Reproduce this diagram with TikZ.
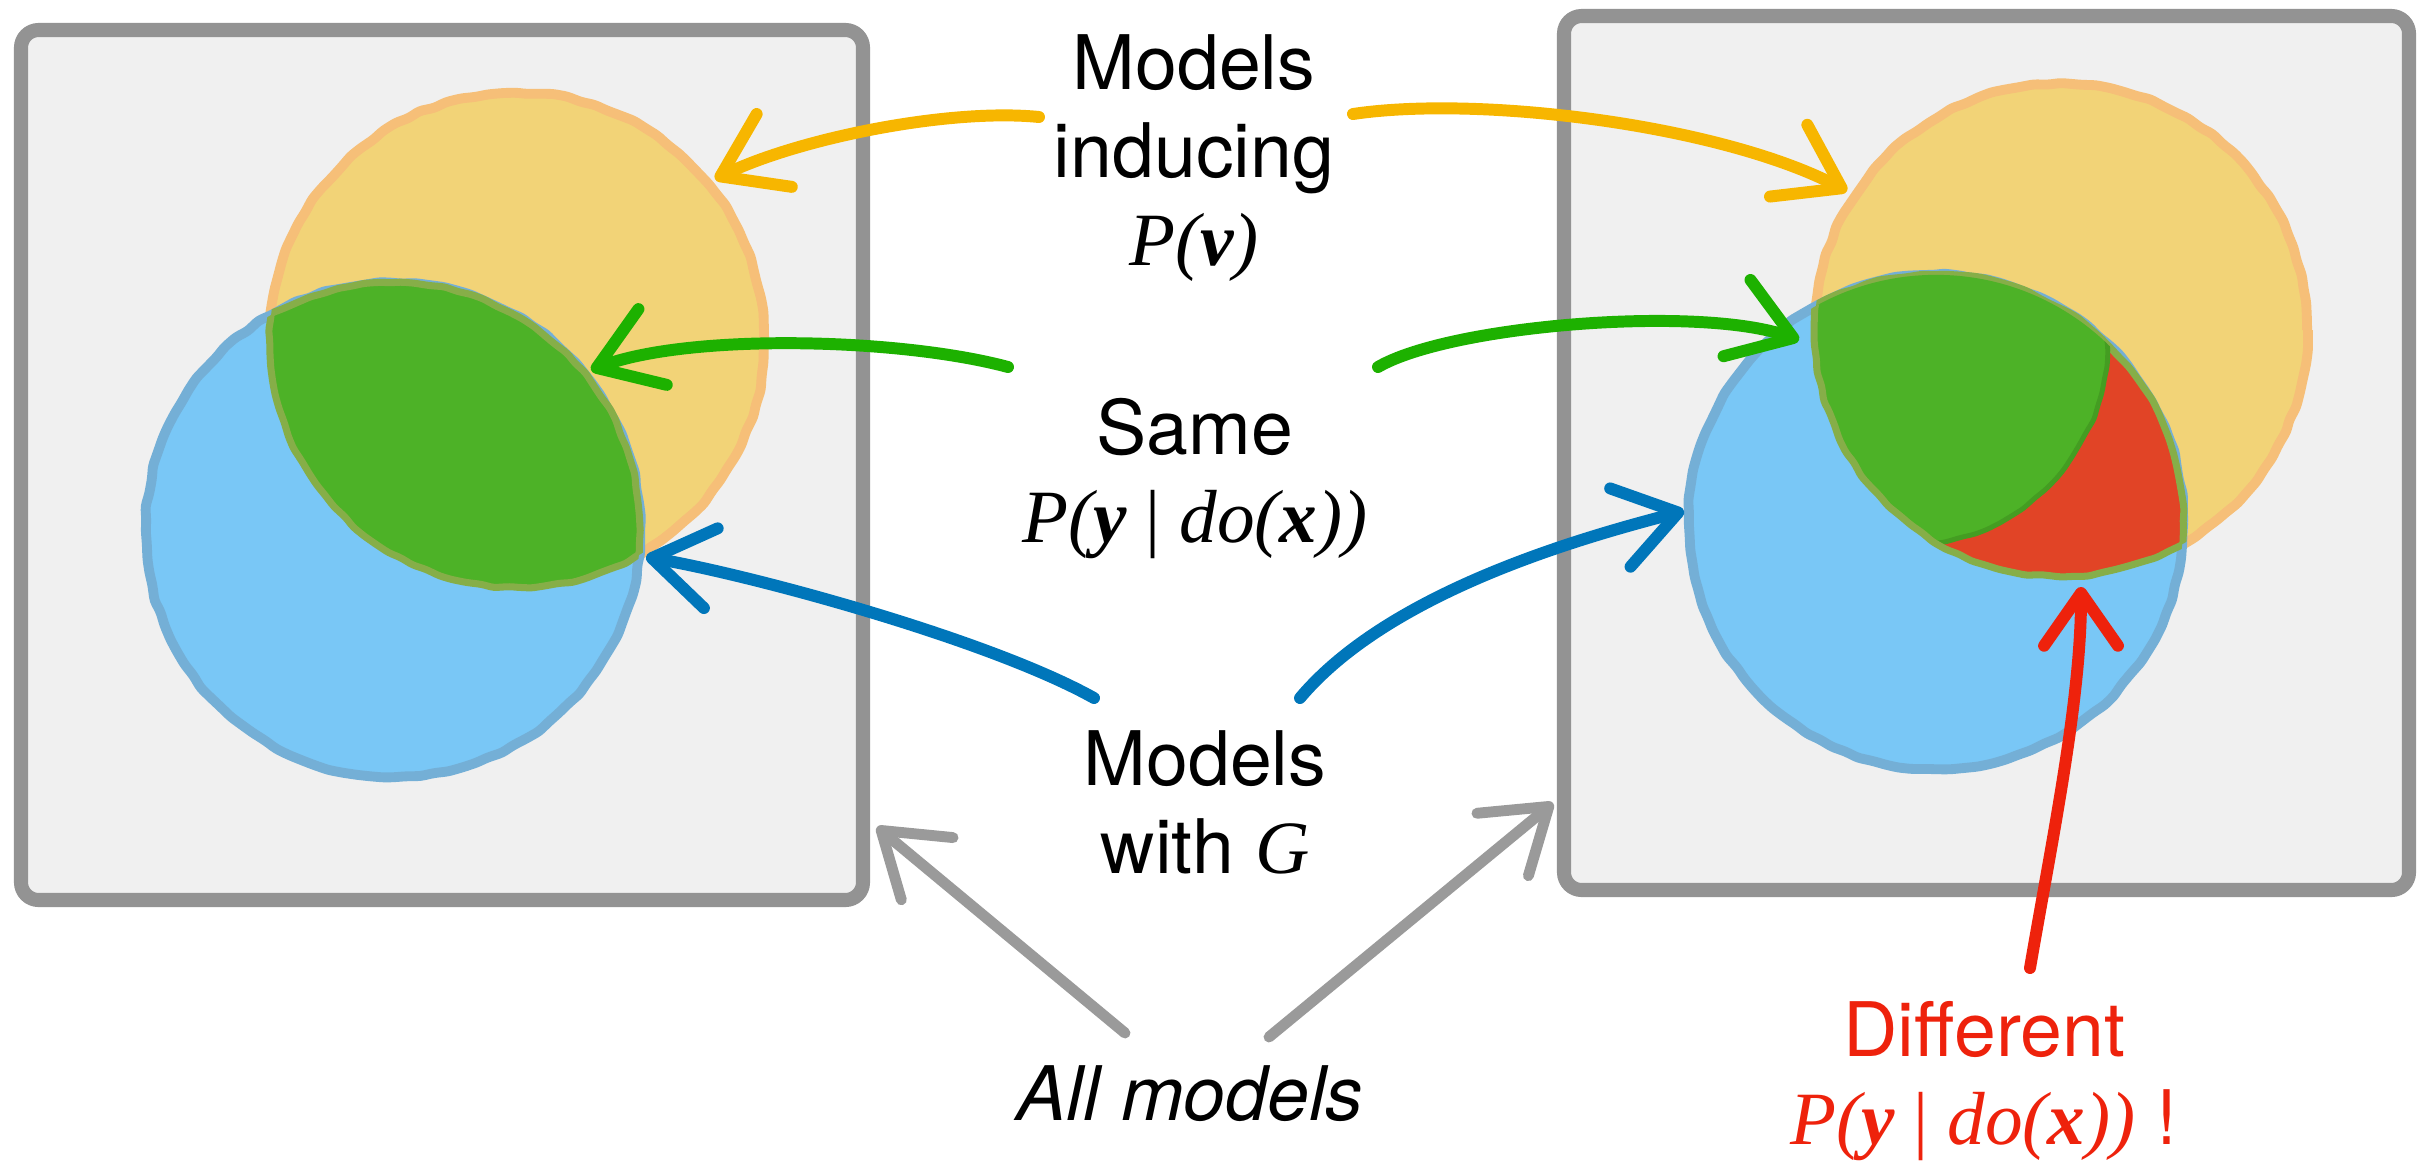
\documentclass[tikz,border=0pt]{standalone}
\usepackage{fontspec}
\setmainfont{TeX Gyre Heros}
\newfontfamily\tms{Liberation Serif}
\usetikzlibrary{arrows.meta,decorations.pathmorphing}

\definecolor{boxfill}{HTML}{F0F0F0}
\definecolor{boxedge}{HTML}{939393}
\definecolor{yelfill}{HTML}{F2D377}
\definecolor{yeledge}{HTML}{F6BF78}
\definecolor{blufill}{HTML}{79C7F6}
\definecolor{bluedge}{HTML}{74AFD6}
\definecolor{grnfill}{HTML}{4DB227}
\definecolor{lensedge}{HTML}{86AE48}
\definecolor{redfill}{HTML}{E14426}
\definecolor{arryel}{HTML}{F7B600}
\definecolor{arrgrn}{HTML}{1DB100}
\definecolor{arrblu}{HTML}{0076BA}
\definecolor{arrgry}{HTML}{9A9A9A}
\definecolor{arrred}{HTML}{EE220C}

% times italic / bold italic pieces of the formulas
\newcommand{\mi}[1]{{\tms\itshape #1}}
\newcommand{\mbi}[1]{{\tms\bfseries\itshape #1}}

\tikzset{
  panel/.style={draw=boxedge, fill=boxfill, line width=4pt, rounded corners=5pt},
  rim/.style={line width=2.8pt, rounded corners=1pt,
    decorate, decoration={random steps, segment length=4pt, amplitude=0.35pt}},
  crayon/.style={line width=3.4pt, line cap=round,
    -{Straight Barb[round, length=17pt, width=23pt]}},
  lbl/.style={font=\fontsize{21.4}{25}\selectfont, align=center, inner sep=0pt},
}

\begin{document}
\begin{tikzpicture}[x=0.01cm,y=-0.01cm]
  \pgfmathsetseed{7}
  \useasboundingbox (0,0) rectangle (2424,1160);

  % the two panels
  \draw[panel] (21,30) rectangle (863,900);
  \draw[panel] (1564,16) rectangle (2409,890);

  % left panel: P(v) set and G set
  \fill[yelfill] (517,340) circle[radius=2.47cm];
  \draw[rim, draw=yeledge] (517,340) circle[radius=2.47cm];
  \fill[blufill] (393,530) circle[radius=2.47cm];
  \draw[rim, draw=bluedge] (393,530) circle[radius=2.47cm];
  \begin{scope}
    \clip (517,340) circle[radius=2.47cm];
    \fill[grnfill] (393,530) circle[radius=2.47cm];
    \draw[rim, line width=2pt, draw=lensedge] (393,530) circle[radius=2.47cm];
  \end{scope}
  \begin{scope}
    \clip (393,530) circle[radius=2.47cm];
    \draw[rim, line width=2pt, draw=lensedge] (517,340) circle[radius=2.47cm];
  \end{scope}

  % right panel
  \fill[yelfill] (2061,330) circle[radius=2.46cm];
  \draw[rim, draw=yeledge] (2061,330) circle[radius=2.46cm];
  \fill[blufill] (1936,522) circle[radius=2.47cm];
  \draw[rim, draw=bluedge] (1936,522) circle[radius=2.47cm];
  \begin{scope}
    \clip (2061,330) circle[radius=2.46cm];
    \fill[redfill] (1936,522) circle[radius=2.47cm];
    \draw[rim, line width=2pt, draw=lensedge] (1936,522) circle[radius=2.47cm];
    \clip (1936,522) circle[radius=2.47cm];
    \fill[grnfill] (1905,343) circle[radius=2.02cm];
    \draw[rim, line width=1.4pt, draw=grnfill!88!black] (1905,343) circle[radius=2.02cm];
  \end{scope}
  \begin{scope}
    \clip (1936,522) circle[radius=2.47cm];
    \draw[rim, line width=2pt, draw=lensedge] (2061,330) circle[radius=2.46cm];
  \end{scope}

  % labels
  \node[lbl, anchor=north] (pv) at (1194,34) {Models\\inducing\\\mi{P(}\mbi{v}\mi{)}};
  \node[lbl, anchor=north] (same) at (1195,398)
    {Same\\\mi{P(}\mbi{y}{\tms{} | }\mi{do(}\mbi{x}\mi{))}};
  \node[lbl, anchor=north] (withg) at (1205,730) {Models\\with \mi{G}};
  \node[lbl, anchor=base] (allm) at (1190,1120) {\itshape All models};
  \node[lbl, anchor=north, text=arrred] (diff) at (1984,1001)
    {Different\\\mi{P(}\mbi{y}{\tms{} | }\mi{do(}\mbi{x}\mi{))} !};

  % arrow ends
  \coordinate (yl-s) at (1039,117);  \coordinate (yl-e) at (715,179);
  \coordinate (yr-s) at (1353,114);  \coordinate (yr-e) at (1847,191);
  \coordinate (gl-s) at (1008,367);  \coordinate (gl-e) at (591,370);
  \coordinate (gr-s) at (1378,367);  \coordinate (gr-e) at (1799,340);
  \coordinate (bl-s) at (1094,698);  \coordinate (bl-e) at (646,557);
  \coordinate (br-s) at (1300,698);  \coordinate (br-e) at (1684,511);
  \coordinate (gyl-s) at (1125,1033); \coordinate (gyl-e) at (877,827);
  \coordinate (gyr-s) at (1269,1037); \coordinate (gyr-e) at (1553,803);
  \coordinate (rd-s) at (2030,968);  \coordinate (rd-e) at (2081,587);

  % arrows
  \draw[crayon, arryel] (yl-s) .. controls (950,108) and (800,138) .. (yl-e);
  \draw[crayon, arryel] (yr-s) .. controls (1480,95) and (1720,125) .. (yr-e);
  \draw[crayon, arrgrn] (gl-s) .. controls (900,338) and (690,333) .. (gl-e);
  \draw[crayon, arrgrn] (gr-s) .. controls (1450,325) and (1700,305) .. (gr-e);
  \draw[crayon, arrblu] (bl-s) .. controls (990,640) and (756,576) .. (bl-e);
  \draw[crayon, arrblu] (br-s) .. controls (1390,591) and (1584,537) .. (br-e);
  \draw[crayon, arrgry, line width=3.1pt] (gyl-s) -- (gyl-e);
  \draw[crayon, arrgry, line width=3.1pt] (gyr-s) -- (gyr-e);
  \draw[line width=3.4pt, line cap=round, arrred,
    -{Straight Barb[round, length=15pt, width=21pt]}]
    (rd-s) .. controls (2052,840) and (2081,700) .. (rd-e);
\end{tikzpicture}
\end{document}
